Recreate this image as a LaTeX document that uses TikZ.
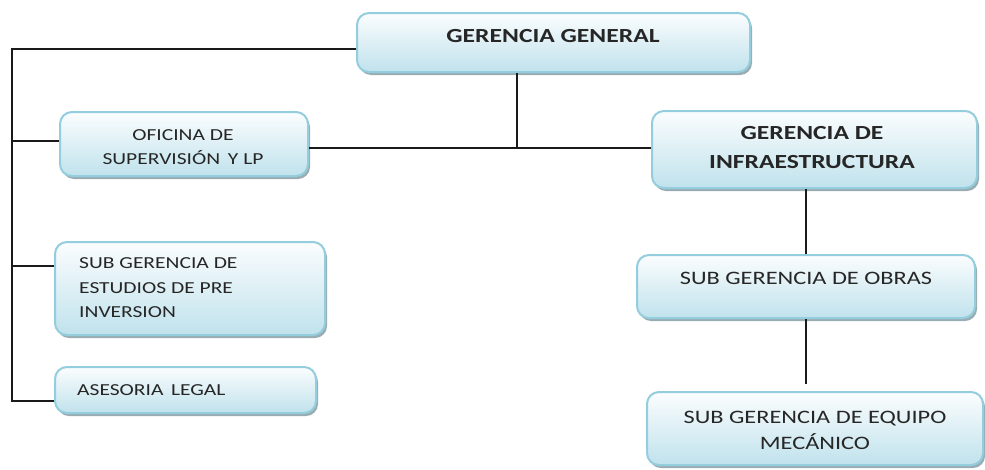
\documentclass[tikz,border=0pt]{standalone}
\usepackage{fontspec}
\setmainfont[FakeStretch=1.28]{Carlito}
\usetikzlibrary{shadows}

\definecolor{boxline}{HTML}{94CEDE}
\definecolor{boxtop}{HTML}{FBFDFE}
\definecolor{boxbot}{HTML}{C0E2EC}
\definecolor{shadowc}{HTML}{8FA3AA}
\definecolor{linkc}{HTML}{1A1A1A}

\tikzset{
  box/.style={draw=boxline, line width=2pt, rounded corners=12pt,
    top color=boxtop, bottom color=boxbot, inner sep=0pt,
    drop shadow={shadow xshift=2pt, shadow yshift=-3pt, fill=shadowc, opacity=0.9}},
  label/.style={inner sep=0pt, font=\fontsize{19}{24}\selectfont, text=black!85},
  slabel/.style={label, font=\fontsize{16.8}{24.5}\selectfont},
  blabel/.style={label, font=\fontsize{20}{29}\selectfont\bfseries},
  link/.style={draw=linkc, line width=1.4pt}
}

\begin{document}
\begin{tikzpicture}[x=1pt, y=-1pt]
  \useasboundingbox (0,0) rectangle (985,469);
  \fill[white] (0,0) rectangle (985,469);

  % boxes
  \node[box, minimum width=393pt, minimum height=59pt] (gg) at (553.5,42.5) {};
  \node[box, minimum width=248pt, minimum height=64pt] (of) at (184,144) {};
  \node[box, minimum width=325pt, minimum height=77pt] (inf) at (814.5,149.5) {};
  \node[box, minimum width=270pt, minimum height=93pt] (est) at (190,288.5) {};
  \node[box, minimum width=261pt, minimum height=46pt] (ase) at (185.5,390) {};
  \node[box, minimum width=338pt, minimum height=63pt] (obr) at (806,286.5) {};
  \node[box, minimum width=336pt, minimum height=73pt] (eq) at (815,428.5) {};

  % texts
  \node[blabel] (tgg) at (553,36) {GERENCIA GENERAL};
  \node[slabel, align=center] (tof) at (183,147) {OFICINA DE\\SUPERVISIÓN\, Y LP};
  \node[blabel, align=center] (tinf) at (812,147.5) {GERENCIA DE\\INFRAESTRUCTURA};
  \node[slabel, align=left, anchor=west] (test) at (79,288) {SUB GERENCIA DE\\ESTUDIOS DE PRE\\INVERSION};
  \node[slabel, anchor=west] (tase) at (77,390) {ASESORIA\, LEGAL};
  \node[label] (tobr) at (806,278) {SUB GERENCIA DE OBRAS};
  \node[label, align=center, font=\fontsize{19}{26}\selectfont] (teq) at (815,430) {SUB GERENCIA DE EQUIPO\\MECÁNICO};

  % left rail
  \coordinate (rtop) at (12,49);
  \coordinate (rof) at (12,141);
  \coordinate (rest) at (12,266);
  \coordinate (rbot) at (12,401);
  \draw[link] ([yshift=-6.5pt]gg.west) -- (rtop) -- (rbot) -- (rbot -| ase.west);
  \draw[link] (rof) -- (rof -| of.west);
  \draw[link] (rest) -- (rest -| est.west);

  % middle branch
  \coordinate (mid) at (517,148);
  \draw[link] (mid |- gg.south) -- (mid);
  \draw[link] (of.east |- mid) -- (inf.west |- mid);

  % right column
  \draw[link] (inf.south -| obr.north) -- (obr.north);
  \draw[link] (obr.south) -- ([yshift=7pt]eq.north -| obr.south);
\end{tikzpicture}
\end{document}
